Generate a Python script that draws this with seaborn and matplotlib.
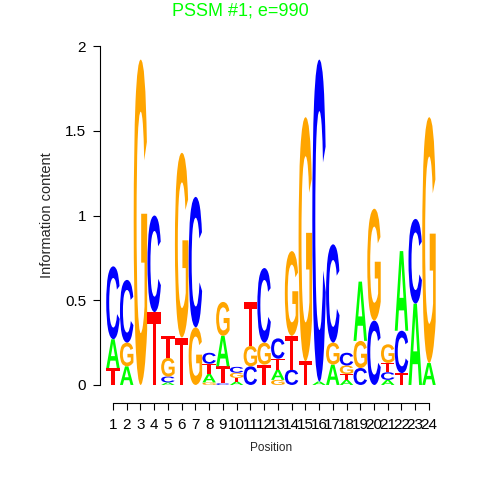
import matplotlib
matplotlib.use("Agg")
import matplotlib.pyplot as plt
import seaborn as sns
from matplotlib.textpath import TextPath
from matplotlib.patches import PathPatch
from matplotlib.font_manager import FontProperties
from matplotlib.transforms import Affine2D

# information content (bits) per letter, positions 1..24
positions = list(range(1, 25))
A_bits = [0.17, 0.11, 0, 0, 0.015, 0, 0, 0.05, 0.18, 0.02, 0, 0,
          0.06, 0, 0, 0.02, 0.12, 0.03, 0.35, 0, 0.03, 0.47, 0.48, 0.13]
C_bits = [0.43, 0.37, 0, 0.57, 0.035, 0, 0.77, 0.065, 0.01, 0.035, 0.11, 0.44,
          0.12, 0.09, 0, 1.9, 0.58, 0.075, 0.1, 0.38, 0.045, 0.25, 0.50, 0]
G_bits = [0, 0.14, 1.92, 0, 0.11, 1.09, 0.34, 0.015, 0.2, 0.03, 0.12, 0.13,
          0.03, 0.5, 1.44, 0, 0.13, 0.05, 0.16, 0.66, 0.11, 0, 0, 1.45]
T_bits = [0.10, 0, 0, 0.43, 0.13, 0.28, 0, 0.06, 0.1, 0.022, 0.26, 0.12,
          0.065, 0.2, 0.14, 0, 0, 0.035, 0, 0, 0.055, 0.07, 0, 0]
yticks = [0, 0.5, 1, 1.5, 2]
ytick_labels = ["0", "0.5", "1", "1.5", "2"]
title = "PSSM #1; e=990"

letter_colors = {"A": "#00FF00", "C": "#0000FF", "G": "#FFA500", "T": "#FF0000"}

sns.set_theme(style="ticks")
plt.rcParams['font.family'] = ['Liberation Sans', 'DejaVu Sans']

fig = plt.figure(figsize=(4.8, 4.8), dpi=100)
ax = fig.add_axes([0.221, 0.198, 0.687, 0.706])

glyph_font = FontProperties(family="Liberation Sans", weight="bold")
glyphs = {}
for let in "ACGT":
    tp = TextPath((0, 0), let, size=1, prop=glyph_font)
    glyphs[let] = (tp, tp.get_extents())


def draw_letter(let, x, y, w, h):
    tp, bb = glyphs[let]
    tr = (Affine2D().translate(-bb.x0, -bb.y0)
          .scale(w / bb.width, h / bb.height)
          .translate(x, y))
    ax.add_patch(PathPatch(tr.transform_path(tp), lw=0,
                           facecolor=letter_colors[let]))


for i, p in enumerate(positions):
    col = [("A", A_bits[i]), ("C", C_bits[i]), ("G", G_bits[i]), ("T", T_bits[i])]
    col = sorted(col, key=lambda t: t[1])
    base = 0
    for let, h in col:
        if h > 0:
            draw_letter(let, p - 0.49, base, 0.98, h)
            base += h

ax.set_xlim(0.5, 24.5)
ax.set_ylim(0, 2)
ax.set_xticks(positions)
ax.set_xticklabels([str(p) for p in positions], fontsize=7.4)
ax.set_yticks(yticks)
ax.set_yticklabels(ytick_labels, fontsize=10)
ax.tick_params(axis="both", length=5, width=0.8, color="black", labelcolor="black")
ax.tick_params(axis="x", pad=6)
ax.tick_params(axis="y", pad=5)
ax.set_xlabel("Position", fontsize=8.5, labelpad=7)
ax.set_ylabel("Information content", fontsize=10.5, labelpad=8)

sns.despine(ax=ax, offset={"left": 4.3, "bottom": 13})
ax.spines["bottom"].set_bounds(1, 24)
ax.spines["left"].set_bounds(0, 2)
for s in ("left", "bottom"):
    ax.spines[s].set_linewidth(0.8)
    ax.spines[s].set_color("black")

fig.text(0.5, 1 - 11 / 480, title, ha="center", va="center",
         color="#00FF00", fontsize=13)

fig.savefig("out.png", dpi=100)
